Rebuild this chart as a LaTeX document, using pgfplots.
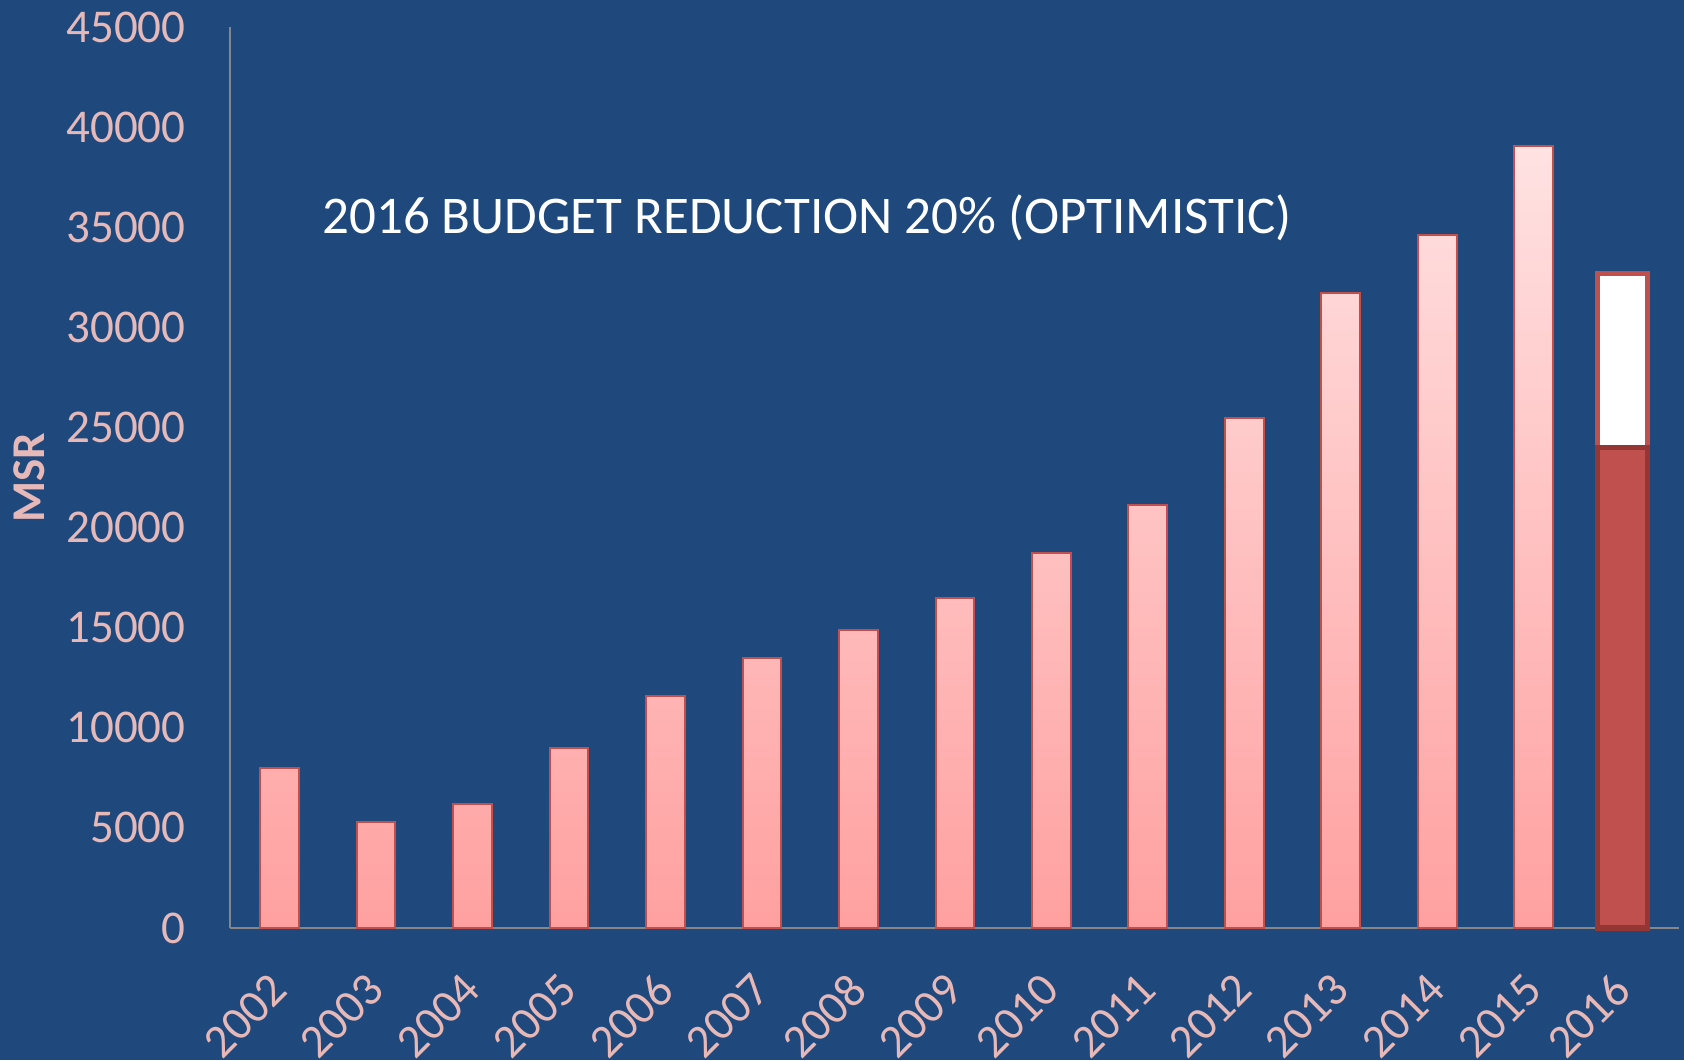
\documentclass[border=0pt]{standalone}
\usepackage{fontspec}
\setmainfont{Carlito}
\usepackage{pgfplots}
\pgfplotsset{compat=1.18}
\definecolor{bg}{RGB}{31,73,125}
\definecolor{tickc}{RGB}{230,185,184}
\definecolor{barline}{RGB}{192,80,77}
\definecolor{bartop}{RGB}{255,226,226}
\definecolor{barbot}{RGB}{255,160,160}
\definecolor{darkred}{RGB}{148,54,52}
\definecolor{axisgray}{RGB}{134,134,134}
\begin{document}
\begin{tikzpicture}
\useasboundingbox (0,0) rectangle (842pt,530pt);
\fill[bg] (0,0) rectangle (842pt,530pt);
\begin{axis}[
  at={(115pt,66pt)}, anchor=south west,
  scale only axis, width=724.5pt, height=450.5pt,
  xmin=-0.511, xmax=14.505, ymin=0, ymax=45000,
  axis x line*=bottom, axis y line*=left,
  axis line style={axisgray, line width=1pt, -},
  major tick length=0pt,
  clip=false,
  xtick={0,1,2,3,4,5,6,7,8,9,10,11,12,13,13.92},
  xticklabels={2002,2003,2004,2005,2006,2007,2008,2009,2010,2011,2012,2013,2014,2015,2016},
  ytick={0,5000,10000,15000,20000,25000,30000,35000,40000,45000},
  scaled y ticks=false,
  /pgf/number format/1000 sep={},
  /pgf/number format/assume math mode=true,
  xticklabel style={font=\fontsize{23.5}{28}\selectfont, text=tickc, inner sep=0pt, yshift=-27pt, rotate=45, anchor=east},
  yticklabel style={font=\fontsize{23.5}{28}\selectfont, text=tickc, inner sep=0pt, anchor=east, xshift=-22pt},
  ylabel={MSR},
  every axis y label/.style={at={(axis description cs:-0.1387,0.5)}, rotate=90, anchor=center, font=\bfseries\fontsize{23.5}{28}\selectfont, text=tickc},
]
\addplot[ybar, bar width=19.3pt, bar shift=0pt, draw=barline, line width=1pt, top color=bartop, bottom color=barbot]
  coordinates {(0,8000) (1,5300) (2,6200) (3,9000) (4,11600) (5,13500) (6,14900) (7,16500) (8,18750) (9,21150) (10,25450) (11,31700) (12,34600) (13,39050)};
\addplot[ybar, bar width=24.8pt, bar shift=0pt, draw=barline, line width=2.6pt, fill=white]
  coordinates {(13.92,32700)};
\addplot[ybar, bar width=24.8pt, bar shift=0pt, draw=darkred, line width=2.6pt, fill=barline]
  coordinates {(13.92,24000)};
\node[anchor=west, text=white, font=\fontsize{26.5}{31}\selectfont, inner sep=0pt] at (axis cs:0.443,35460) {2016 BUDGET REDUCTION 20\% (OPTIMISTIC)};
\end{axis}
\end{tikzpicture}
\end{document}
